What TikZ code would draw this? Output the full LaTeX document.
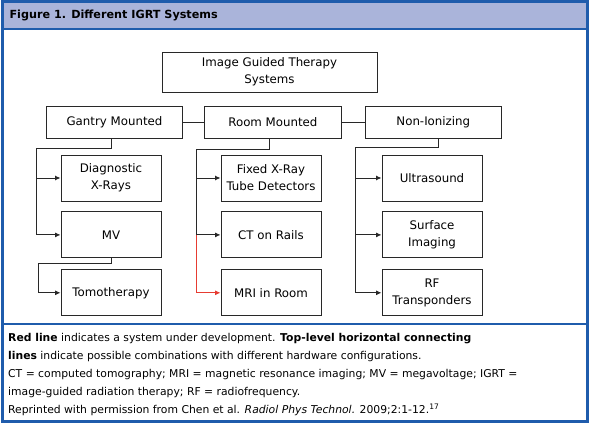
\documentclass[tikz,border=0pt]{standalone}
\usepackage{fontspec}
\setmainfont{DejaVu Sans}
\usepackage{xcolor}
\usepackage{tikz}
\usetikzlibrary{positioning,arrows.meta}
\definecolor{frameblue}{RGB}{31, 92, 172}
\definecolor{barblue}{RGB}{170, 180, 218}
\definecolor{boxgray}{RGB}{40, 40, 40}
\definecolor{devred}{RGB}{230, 60, 50}

\begin{document}
\begin{tikzpicture}[
  x=1pt, y=-1pt,
  box/.style={
    draw=boxgray, fill=white, line width=0.9pt,
    align=center, inner sep=2pt,
    font=\fontsize{11.8}{17}\selectfont
  },
  topbox/.style={box, minimum width=215pt, minimum height=40pt},
  grpbox/.style={box, minimum width=136.5pt, minimum height=32pt},
  leafbox/.style={box, minimum width=100pt, minimum height=46pt},
  link/.style={draw=boxgray, line width=0.9pt},
  arr/.style={link, -{Latex[length=5.5pt, width=5pt]}},
  node distance=10pt
]
\useasboundingbox (0,0) rectangle (595,430);

%% ── FRAME AND TITLE BAR ──
\fill[barblue] (2,2) rectangle (587,29);
\draw[frameblue, line width=2pt] (2,29) -- (587,29);
\draw[frameblue, line width=1.5pt] (2,324) -- (587,324);
\draw[frameblue, line width=3pt] (2,2) rectangle (587,422);
\node[anchor=west, font=\fontsize{11.2}{13}\selectfont\bfseries, text=black]
  (title) at (6,15.5) {Figure 1. Different IGRT Systems};

%% ── TOP LEVEL ──
\node[topbox] (igts) at (269.5,72) {Image Guided Therapy\\Systems};

\node[grpbox] (gantry) at (114.5,122) {Gantry Mounted};
\node[grpbox, right=21pt of gantry] (room) {Room Mounted};
\node[grpbox, right=23pt of room] (nonion) {Non-Ionizing};

%% ── HORIZONTAL LINKS ──
\draw[link] (gantry) -- (room);
\draw[link] (room) -- (nonion);

%% ── GANTRY COLUMN ──
\node[leafbox] (diag) at (111,178) {Diagnostic\\X-Rays};
\node[leafbox, below=of diag] (mv) {MV};
\node[leafbox, below=11pt of mv] (tomo) {Tomotherapy};

\coordinate (gbus) at (36,148);
\coordinate (mbus) at (38,263);
\draw[arr] ([xshift=-3pt]gantry.south) |- (gbus) |- (mv.west);
\draw[arr] (gbus |- diag.west) -- (diag.west);
\draw[arr] (mv.south) |- (mbus) |- (tomo.west);

%% ── ROOM COLUMN ──
\node[leafbox] (fixed) at (271,178) {Fixed X-Ray\\Tube Detectors};
\node[leafbox, below=of fixed] (rails) {CT on Rails};
\node[leafbox, below=11pt of rails] (mri) {MRI in Room};

\coordinate (rbus) at (196,149);
\draw[arr] ([xshift=-3pt]room.south) |- (rbus) |- (rails.west);
\draw[arr] (rbus |- fixed.west) -- (fixed.west);
\draw[arr, draw=devred] (rbus |- rails.west) |- (mri.west);

%% ── NON-IONIZING COLUMN ──
\node[leafbox] (us) at (432,178) {Ultrasound};
\node[leafbox, below=of us] (surf) {Surface\\Imaging};
\node[leafbox, below=11pt of surf] (rf) {RF\\Transponders};

\coordinate (nbus) at (355,147);
\draw[arr] ([xshift=5pt]nonion.south) |- (nbus) |- (rf.west);
\draw[arr] (nbus |- us.west) -- (us.west);
\draw[arr] (nbus |- surf.west) -- (surf.west);

%% ── CAPTION ──
\node[anchor=north west, inner sep=0pt, align=left,
  font=\fontsize{10.8}{18}\selectfont] (caption) at (8,333) {%
  \textbf{Red line} indicates a system under development. \textbf{Top-level horizontal connecting}\\
  \textbf{lines} indicate possible combinations with different hardware configurations.\\
  CT = computed tomography; MRI = magnetic resonance imaging; MV = megavoltage; IGRT =\\
  image-guided radiation therapy; RF = radiofrequency.\\
  Reprinted with permission from Chen et al. \textit{Radiol Phys Technol.} 2009;2:1-12.\textsuperscript{17}};

\end{tikzpicture}
\end{document}
